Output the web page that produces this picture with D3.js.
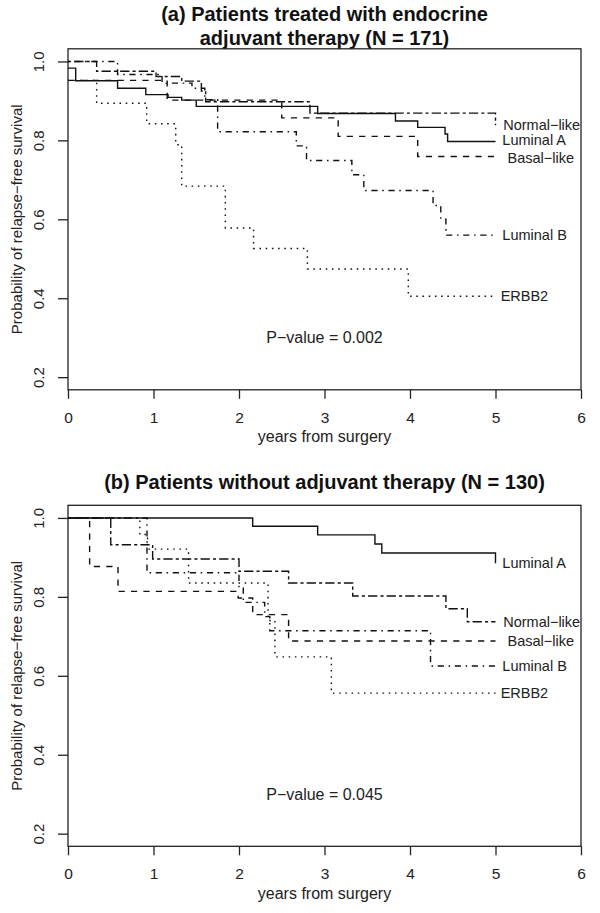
<!DOCTYPE html>
<html>
<head>
<meta charset="utf-8">
<script src="https://cdnjs.cloudflare.com/ajax/libs/d3/7.8.5/d3.min.js"></script>
<style>
  html, body { margin: 0; padding: 0; background: #fff; }
  svg { display: block; font-family: "Liberation Sans", Arial, Helvetica, sans-serif; }
  .axis path, .axis line { stroke: #222; stroke-width: 1.3; }
  .axis text { font-size: 15px; fill: #222; }
</style>
</head>
<body>
<div id="chart"></div>
<script>
// axis ticks
var yearTicks = [0, 1, 2, 3, 4, 5, 6];
var probTicks = [0.2, 0.4, 0.6, 0.8, 1.0];

// subtype names, same order in both panels
var groups = ["Luminal A", "Basal\u2212like", "ERBB2", "Luminal B", "Normal\u2212like"];
var labelYear = [5.08, 5.14, 5.06, 5.08, 5.09];

// (a) treated with endocrine adjuvant therapy: step times and survival
var aLumA_t = [0, 0.09, 0.58, 0.91, 1.17, 1.33, 1.5, 2.92, 3.83, 4.09, 4.41, 4.44, 5.0];
var aLumA_s = [0.983, 0.951, 0.932, 0.916, 0.909, 0.902, 0.886, 0.868, 0.849, 0.833, 0.816, 0.797, 0.797];
var aBasal_t = [0, 1.16, 2.5, 3.16, 4.09, 5.0];
var aBasal_s = [0.952, 0.902, 0.857, 0.81, 0.759, 0.759];
var aErbb2_t = [0, 0.335, 0.92, 1.26, 1.33, 1.84, 2.17, 2.8, 3.98, 5.0];
var aErbb2_s = [0.952, 0.894, 0.842, 0.789, 0.684, 0.578, 0.526, 0.474, 0.405, 0.405];
var aLumB_t = [0, 0.58, 1.1, 1.45, 1.6, 1.75, 2.67, 2.79, 3.32, 3.46, 4.27, 4.36, 4.42, 5.0];
var aLumB_s = [1.0, 0.967, 0.945, 0.932, 0.903, 0.822, 0.786, 0.749, 0.713, 0.673, 0.635, 0.6, 0.56, 0.56];
var aNorm_t = [0, 0.335, 1.03, 1.33, 1.56, 1.61, 2.83, 5.0];
var aNorm_s = [1.0, 0.975, 0.962, 0.95, 0.925, 0.898, 0.869, 0.838];

// (b) without adjuvant therapy
var bLumA_t = [0, 2.16, 2.92, 3.59, 3.67, 5.0];
var bLumA_s = [1.0, 0.979, 0.957, 0.934, 0.911, 0.885];
var bBasal_t = [0, 0.253, 0.585, 1.99, 2.16, 2.58, 5.0];
var bBasal_s = [1.0, 0.877, 0.814, 0.797, 0.755, 0.688, 0.688];
var bErbb2_t = [0, 0.84, 0.93, 1.41, 2.34, 2.42, 3.08, 5.0];
var bErbb2_s = [1.0, 0.958, 0.921, 0.835, 0.74, 0.648, 0.556, 0.556];
var bLumB_t = [0, 0.924, 2.0, 2.05, 2.3, 2.36, 4.24, 5.0];
var bLumB_s = [1.0, 0.861, 0.822, 0.786, 0.75, 0.714, 0.625, 0.625];
var bNorm_t = [0, 0.5, 0.99, 2.0, 2.58, 3.33, 4.42, 4.67, 5.0];
var bNorm_s = [1.0, 0.932, 0.896, 0.865, 0.835, 0.802, 0.77, 0.737, 0.737];

var pValues = ["0.002", "0.045"];

// line types: solid, dashed, dotted, dotdash, twodash
var u = 1.55;
var dashes = ["none", [4*u, 4*u], [u, 3*u], [u, 3*u, 4*u, 3*u], [2*u, 2*u, 6*u, 2*u]]
  .map(function(d) { return d === "none" ? d : d.join(","); });
// small vertical nudges so neighbouring labels don't collide
var labelNudge = [-1.5, 1.5, 0, 0, 0];

var panels = [
  { title: ["(a) Patients treated with endocrine", "adjuvant therapy (N = 171)"],
    times: [aLumA_t, aBasal_t, aErbb2_t, aLumB_t, aNorm_t],
    surv: [aLumA_s, aBasal_s, aErbb2_s, aLumB_s, aNorm_s],
    p: pValues[0] },
  { title: ["(b) Patients without adjuvant therapy (N = 130)"],
    times: [bLumA_t, bBasal_t, bErbb2_t, bLumB_t, bNorm_t],
    surv: [bLumA_s, bBasal_s, bErbb2_s, bLumB_s, bNorm_s],
    p: pValues[1] }
];

var W = 600, H = 913, panelH = 456.5;
var margin = {top: 48.8, right: 19, bottom: 66.7, left: 68};
var width = W - margin.left - margin.right,
    height = panelH - margin.top - margin.bottom;

var svg = d3.select("#chart").append("svg")
    .attr("width", W)
    .attr("height", H);

var x = d3.scaleLinear().domain([0, 6]).range([0, width]);
var y = d3.scaleLinear().domain([0.168, 1.032]).range([height, 0]);

var line = d3.line()
    .x(function(d) { return x(d[0]); })
    .y(function(d) { return y(d[1]); })
    .curve(d3.curveStepAfter);

panels.forEach(function(p, pi) {
  var g = svg.append("g")
      .attr("transform", "translate(" + margin.left + "," + (pi * panelH + margin.top) + ")");

  // title
  var t = g.append("text")
      .attr("x", width / 2)
      .attr("text-anchor", "middle")
      .style("font-size", "20px")
      .style("font-weight", "bold")
      .style("fill", "#111");
  var base = -16;
  var first = base - (p.title.length - 1) * 23.5 / 2;
  p.title.forEach(function(s, i) {
    t.append("tspan").attr("x", width / 2).attr("y", first + i * 23.5).text(s);
  });

  // axes
  var xAxis = g.append("g")
      .attr("class", "axis")
      .attr("transform", "translate(0," + height + ")")
      .call(d3.axisBottom(x).tickValues(yearTicks).tickSize(9).tickPadding(13).tickFormat(d3.format("d")));
  xAxis.select(".domain").remove();
  xAxis.selectAll("text").style("font-size", "15.5px");

  var yAxis = g.append("g")
      .attr("class", "axis")
      .call(d3.axisLeft(y).tickValues(probTicks).tickSize(10).tickFormat(d3.format(".1f")));
  yAxis.select(".domain").remove();
  yAxis.selectAll("text")
      .attr("transform", "rotate(-90)")
      .attr("x", 0)
      .attr("y", -23.6)
      .attr("dy", 0)
      .style("text-anchor", "middle");

  // box
  g.append("rect")
      .attr("width", width)
      .attr("height", height)
      .attr("fill", "none")
      .attr("stroke", "#222")
      .attr("stroke-width", 1.3);

  g.append("text")
      .attr("x", width / 2)
      .attr("y", height + 52.5)
      .attr("text-anchor", "middle")
      .style("font-size", "16px")
      .style("fill", "#222")
      .text("years from surgery");

  g.append("text")
      .attr("transform", "translate(" + (22 - margin.left) + "," + (height / 2) + ") rotate(-90)")
      .attr("text-anchor", "middle")
      .style("font-size", "15px")
      .style("fill", "#222")
      .text("Probability of relapse\u2212free survival");

  // curves
  groups.forEach(function(name, i) {
    var pts = p.times[i].map(function(tt, j) { return [tt, p.surv[i][j]]; });
    g.append("path")
        .datum(pts)
        .attr("d", line)
        .attr("fill", "none")
        .attr("stroke", "#111")
        .attr("stroke-width", 1.4)
        .attr("stroke-dasharray", dashes[i]);

    g.append("text")
        .attr("x", x(labelYear[i]))
        .attr("y", y(pts[pts.length - 1][1]) + (pi === 0 ? labelNudge[i] : 0))
        .attr("dy", "0.35em")
        .style("font-size", "14.5px")
        .style("fill", "#222")
        .text(name);
  });

  g.append("text")
      .attr("x", x(3))
      .attr("y", y(0.3))
      .attr("dy", "0.35em")
      .attr("text-anchor", "middle")
      .style("font-size", "16px")
      .style("fill", "#222")
      .text("P\u2212value = " + p.p);
});
</script>
</body>
</html>
